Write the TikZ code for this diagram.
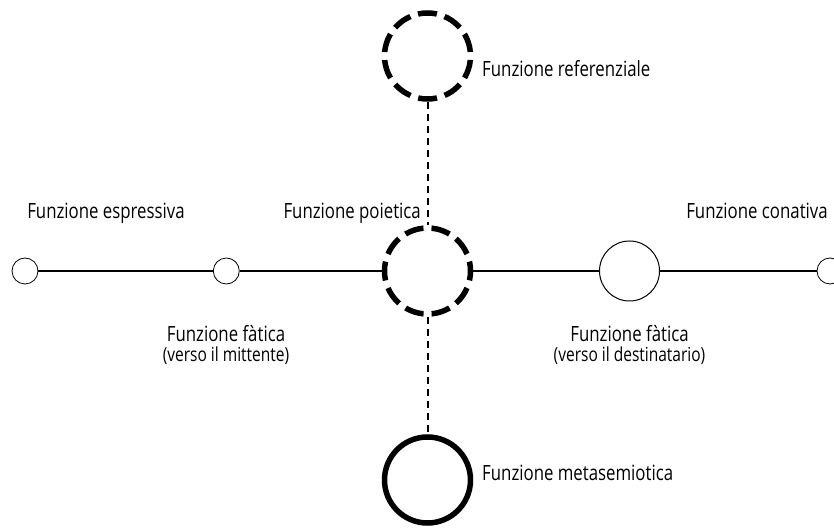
\documentclass[tikz,border=0pt]{standalone}
\usepackage{fontspec}
\setmainfont{Open Sans}[FakeStretch=0.8]
\usetikzlibrary{positioning}

\begin{document}
\begin{tikzpicture}[x=1pt,y=1pt,
    small/.style={circle,draw,line width=0.8pt,fill=white,inner sep=0pt,minimum size=26pt},
    big/.style={circle,draw,line width=5.5pt,inner sep=0pt,minimum size=86pt},
    dashring/.style={big,dash pattern=on 19pt off 8.02pt},
    axis/.style={line width=2.4pt},
    link/.style={line width=2pt,dash pattern=on 7pt off 5pt},
    lab/.style={font=\fontsize{21}{24}\selectfont,inner sep=0pt},
    sublab/.style={font=\fontsize{19.4}{22}\selectfont,inner sep=0pt}]
  \useasboundingbox (0,0) rectangle (834,527);
  % Circles on the horizontal axis
  \node[small] (espr) at (25,256) {};
  \node[small] (fatsx) at (226.3,256) {};
  \node[dashring,dash phase=9.5pt] (poie) at (427.5,256) {};
  \node[circle,draw,line width=1pt,inner sep=0pt,minimum size=60pt] (fatdx) at (629.5,256) {};
  \node[small] (conat) at (830,256) {};
  % Circles above and below
  \node[dashring,dash phase=23pt] (refer) at (427.5,471) {};
  \node[big] (meta) at (427.5,47) {};
  % Horizontal axis
  \draw[axis] (espr) -- (fatsx) -- (poie) -- (fatdx) -- (conat);
  % Dashed links to the centre
  \draw[link] (refer) -- (poie);
  \draw[link] (poie) -- (meta);
  % Labels
  \node[lab,anchor=base] (esprlab) at (106,308) {Funzione espressiva};
  \node[lab,anchor=base east] (poielab) at (421,308) {Funzione poietica};
  \node[lab,anchor=base] (conatlab) at (757,308) {Funzione conativa};
  \node[lab,anchor=base] (fatsxlab) at (226,185) {Funzione fàtica};
  \node[sublab,anchor=base] (fatsxnote) at (226,165) {(verso il mittente)};
  \node[lab,anchor=base] (fatdxlab) at (629.5,185) {Funzione fàtica};
  \node[sublab,anchor=base] (fatdxnote) at (629.5,165) {(verso il destinatario)};
  \node[lab,anchor=base west] (referlab) at (482,450) {Funzione referenziale};
  \node[lab,anchor=base west] (metalab) at (482,47) {Funzione metasemiotica};
\end{tikzpicture}
\end{document}
